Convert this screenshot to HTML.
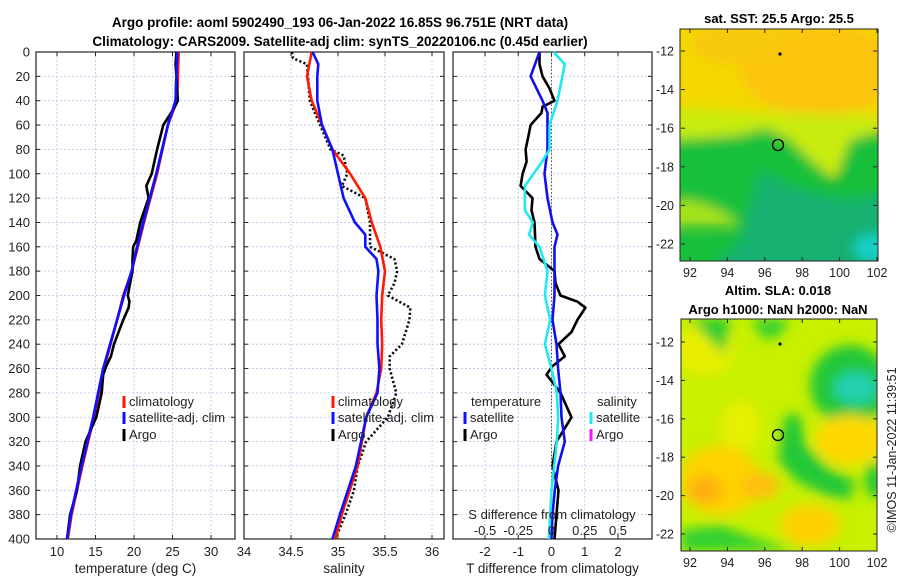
<!DOCTYPE html>
<html><head><meta charset="utf-8"><style>
body{margin:0;background:#fff;}
svg{display:block;font-family:"Liberation Sans","DejaVu Sans",sans-serif;}
</style></head><body>
<svg id="fig" width="900" height="580" viewBox="0 0 900 580">
<defs>
<filter id="blur" x="-20%" y="-20%" width="140%" height="140%"><feGaussianBlur stdDeviation="6"/></filter>
<clipPath id="clip1"><rect x="680" y="29" width="198" height="232"/></clipPath>
<clipPath id="clip2"><rect x="681" y="319" width="196" height="232"/></clipPath>
</defs>
<text x="340" y="27" text-anchor="middle" font-size="13.5" font-weight="bold">Argo profile: aoml 5902490_193 06-Jan-2022 16.85S 96.751E (NRT data)</text>
<text x="340" y="46" text-anchor="middle" font-size="13.5" font-weight="bold">Climatology: CARS2009. Satellite-adj clim: synTS_20220106.nc (0.45d earlier)</text>
<g id="panels"></g>
<!-- map 1 -->
<g clip-path="url(#clip1)">
<rect x="680" y="29" width="198" height="232" fill="#f4d800"/>
<g filter="url(#blur)">
<ellipse cx="820" cy="70" rx="80" ry="45" fill="#fcc410"/>
<ellipse cx="740" cy="45" rx="50" ry="20" fill="#f8c810"/>
<path d="M660,110 L700,108 L740,112 L877,115 L877,140 L860,150 L830,175 L800,190 L770,200 L720,205 L660,200 Z" fill="#c8ec10"/>
<path d="M660,140 L700,138 L740,135 L765,128 L790,140 L810,160 L835,180 L850,140 L877,132 L900,132 L900,280 L660,280 Z" fill="#14c03a"/>
<path d="M660,205 L690,200 L720,210 L740,225 L660,225 Z" fill="#a8e418"/>
<path d="M760,170 L800,190 L850,200 L900,190 L900,280 L700,280 L740,240 Z" fill="#12b070"/>
<ellipse cx="872" cy="248" rx="18" ry="14" fill="#18d0c8"/>
</g>
<path d="M680,232 L720,232 L740,225 L680,225 Z" fill="#1ec832" opacity="0.6" filter="url(#blur)"/>
</g>
<rect x="680" y="29" width="198" height="232" fill="none" stroke="#222" stroke-width="1"/>
<circle cx="780" cy="54" r="1.6" fill="#000"/>
<circle cx="778" cy="145" r="5.5" fill="none" stroke="#000" stroke-width="1.3"/>
<text x="779" y="23" text-anchor="middle" font-size="13" font-weight="bold">sat. SST: 25.5 Argo: 25.5</text>
<!-- map 2 -->
<g clip-path="url(#clip2)">
<rect x="681" y="319" width="196" height="232" fill="#c8f000"/>
<g filter="url(#blur)">
<ellipse cx="705" cy="350" rx="30" ry="25" fill="#e8ee00"/>
<path d="M690,319 L730,319 L725,355 L710,340 Z" fill="#22cc30"/>
<path d="M750,319 L790,319 L780,335 L765,340 Z" fill="#30d030"/>
<ellipse cx="850" cy="385" rx="40" ry="40" fill="#22c838"/>
<ellipse cx="856" cy="388" rx="22" ry="16" fill="#20d0b0"/>
<path d="M778,460 L785,415 L800,415 L805,445 L830,470 L855,480 L850,500 L825,495 L795,480 Z" fill="#22c838"/>
<ellipse cx="720" cy="480" rx="40" ry="35" fill="#ffd200"/>
<ellipse cx="705" cy="490" rx="18" ry="14" fill="#ffb010"/>
<ellipse cx="760" cy="486" rx="20" ry="14" fill="#ffc010"/>
<ellipse cx="850" cy="440" rx="35" ry="25" fill="#ffd800"/>
<ellipse cx="810" cy="525" rx="30" ry="20" fill="#ffd000"/>
<ellipse cx="740" cy="425" rx="20" ry="25" fill="#e6f000"/>
<path d="M681,530 L720,525 L760,540 L800,551 L681,551 Z" fill="#30d030"/>
<ellipse cx="875" cy="480" rx="10" ry="18" fill="#22c838"/>
</g>
</g>
<rect x="681" y="319" width="196" height="232" fill="none" stroke="#222" stroke-width="1"/>
<circle cx="780" cy="344" r="1.6" fill="#000"/>
<circle cx="778" cy="435" r="5.5" fill="none" stroke="#000" stroke-width="1.3"/>
<text x="778" y="295" text-anchor="middle" font-size="13" font-weight="bold">Altim. SLA: 0.018</text>
<text x="778" y="314" text-anchor="middle" font-size="13" font-weight="bold">Argo h1000: NaN h2000: NaN</text>
<text transform="translate(896,450) rotate(-90)" text-anchor="middle" font-size="12.5" fill="#222">©IMOS 11-Jan-2022 11:39:51</text>
<g id="maps-axes"></g>
</svg>
<script>
// ---------- data ----------
const depthTicks = [0,20,40,60,80,100,120,140,160,180,200,220,240,260,280,300,320,340,360,380,400];
const tempTicks = [10,15,20,25,30];
const salTicks = [34,34.5,35,35.5,36];
const tdiffTicks = [-2,-1,0,1,2];
const sdiffTicks = [-0.5,-0.25,0,0.25,0.5];
const sdiffTickLabels = ['-0.5','-0.25','0','0.25','0.5'];

const tempClimDepth = [0,40,60,100,140,160,180,200,220,260,300,340,380,400];
const tempClimVal   = [25.8,25.6,24.4,23.0,21.3,20.5,19.7,18.6,17.8,16.1,14.8,13.3,11.9,11.4];
const tempSatDepth  = [0,40,60,100,140,160,180,200,220,260,300,340,380,400];
const tempSatVal    = [25.6,25.4,24.4,22.9,21.2,20.4,19.7,18.7,17.8,16.0,14.7,13.2,11.8,11.3];
const tempArgoDepth = [0,10,20,30,40,45,50,60,80,100,110,120,140,155,160,170,180,190,200,205,210,220,240,250,258,265,280,300,320,340,360,380,400];
const tempArgoVal   = [25.5,25.4,25.5,25.6,25.7,25.3,24.8,23.8,23.0,22.3,21.6,21.9,20.8,20.3,19.9,19.8,19.8,19.5,19.2,19.4,19.3,18.6,17.4,17.0,16.4,16.0,15.8,15.1,13.7,13.0,12.6,11.7,11.3];

const salClimDepth = [0,20,40,60,80,100,120,140,160,180,200,220,240,260,280,300,340,380,400];
const salClimVal   = [34.72,34.67,34.72,34.83,34.94,35.13,35.29,35.36,35.45,35.5,35.47,35.46,35.47,35.46,35.41,35.3,35.21,35.04,34.97];
const salSatDepth  = [0,10,20,40,60,80,100,120,140,150,160,170,180,200,220,240,260,280,300,340,380,400];
const salSatVal    = [34.73,34.79,34.78,34.78,34.83,34.94,35.0,35.06,35.18,35.29,35.29,35.41,35.43,35.41,35.42,35.42,35.44,35.42,35.3,35.19,35.02,34.94];
const salArgoDepth = [0,5,10,40,60,80,85,100,110,120,140,160,170,180,190,200,210,220,240,250,260,280,300,320,340,360,380,400];
const salArgoVal   = [34.51,34.52,34.67,34.7,34.81,34.92,35.06,35.1,35.04,35.29,35.34,35.34,35.6,35.63,35.6,35.53,35.77,35.76,35.68,35.55,35.55,35.62,35.53,35.3,35.21,35.17,35.08,34.97];

const tdSatDepth  = [0,20,40,50,80,100,120,140,150,160,200,220,240,260,280,300,320,340,360,380,400];
const tdSatVal    = [-0.36,-0.63,-0.27,-0.12,-0.12,-0.21,-0.12,0.03,0.18,0.09,0.09,0.03,0.15,0.2,0.27,0.3,0.4,0.2,0.1,0.03,0.0];
const tdArgoDepth = [0,10,20,30,40,45,50,60,70,80,90,100,110,120,130,140,160,170,180,190,200,205,210,220,230,240,250,258,265,280,300,320,340,360,380,400];
const tdArgoVal   = [-0.36,-0.36,-0.27,-0.06,0.09,-0.27,-0.3,-0.63,-0.7,-0.78,-0.75,-0.87,-0.93,-0.57,-0.6,-0.51,-0.48,-0.36,0.09,0.12,0.27,0.78,1.02,0.78,0.6,0.21,0.4,0.03,-0.15,0.27,0.6,0.15,0.03,0.21,0.15,0.09];
const sdSatDepth  = [0,10,40,60,80,90,110,130,140,150,160,180,200,220,240,260,280,300,320,340,360,380,400];
const sdSatVal    = [0.015,0.1,0.045,-0.015,-0.015,-0.07,-0.2,-0.2,-0.14,-0.17,-0.09,-0.03,-0.05,-0.01,-0.05,0.0,0.04,0.05,0.04,0.02,0.0,-0.01,-0.02];

const lonTicks = [92,94,96,98,100,102];
const latTicks = [-12,-14,-16,-18,-20,-22];

// ---------- helpers ----------
const NS = 'http://www.w3.org/2000/svg';
const panelsG = document.getElementById('panels');
function mk(tag, attrs, parent){
  const e = document.createElementNS(NS, tag);
  for (const k in attrs) e.setAttribute(k, attrs[k]);
  (parent||panelsG).appendChild(e);
  return e;
}
const Y0 = 52, Y1 = 539;
function yDepth(d){ return Y0 + d/400*(Y1-Y0); }
function scaleX(dmin,dmax,px0,px1){ return v => px0 + (v-dmin)/(dmax-dmin)*(px1-px0); }

function panel(name, x0, x1, xs, ticks, labels, xlabel, showY){
  const g = mk('g', {});
  
  
  depthTicks.forEach(d=>{
    const l = mk('line',{x1:x0,x2:x1,y1:yDepth(d),y2:yDepth(d),stroke:'#b8c4e8','stroke-width':0.8,'stroke-dasharray':'2,2'},g);
    
    
    mk('line',{x1:x0,x2:x0+4,y1:yDepth(d),y2:yDepth(d),stroke:'#222'},g);
    mk('line',{x1:x1-4,x2:x1,y1:yDepth(d),y2:yDepth(d),stroke:'#222'},g);
    if (showY){
      const t = mk('text',{x:x0-6,y:yDepth(d)+4.5,'text-anchor':'end','font-size':13,fill:'#222'},g);
      t.textContent = d;
      
      
    }
  });
  ticks.forEach((v,i)=>{
    const x = xs(v);
    const l = mk('line',{x1:x,x2:x,y1:Y0,y2:Y1,stroke:'#b8c4e8','stroke-width':0.8,'stroke-dasharray':'2,2'},g);
    
    
    mk('line',{x1:x,x2:x,y1:Y1,y2:Y1-4,stroke:'#222'},g);
    mk('line',{x1:x,x2:x,y1:Y0,y2:Y0+4,stroke:'#222'},g);
    const t = mk('text',{x:x,y:556,'text-anchor':'middle','font-size':13,fill:'#222'},g);
    t.textContent = labels[i];
    
    
  });
  const fr = mk('rect',{x:x0,y:Y0,width:x1-x0,height:Y1-Y0,fill:'none',stroke:'#222','stroke-width':1.2},g);
  
  
  const xt = mk('text',{x:(x0+x1)/2,y:573,'text-anchor':'middle','font-size':13.5,fill:'#222'},g);
  xt.textContent = xlabel;
  
  
  return g;
}
function line(g, name, xs, depths, vals, color, dash){
  const pts = depths.map((d,i)=> xs(vals[i]).toFixed(1)+','+yDepth(d).toFixed(1)).join(' ');
  const p = mk('polyline',{points:pts,fill:'none',stroke:color,'stroke-width':2.6,'stroke-linejoin':'round'},g);
  if (dash){ p.setAttribute('stroke-dasharray','2.2,2.2'); }
  
  
}
function legendEntry(g, x, y, color, label){
  const r = mk('rect',{x:x-1.5,y:y-10,width:3,height:12,fill:color},g);
  
  
  const t = mk('text',{x:x+5,y:y,'font-size':13,fill:'#222'},g);
  t.textContent = label;
  
  
}

// ---------- panel 1: temperature ----------
const xT = scaleX(10,30,57,211);
const g1 = panel('temperature-panel',36,235,xT,tempTicks,tempTicks.map(String),'temperature (deg C)',true);
line(g1,'temp-climatology-line',xT,tempClimDepth,tempClimVal,'#ff1a00');
line(g1,'temp-satellite-line',xT,tempSatDepth,tempSatVal,'#1010ff');
line(g1,'temp-argo-line',xT,tempArgoDepth,tempArgoVal,'#000');
line(g1,'temp-satellite-line-top',xT,tempSatDepth,tempSatVal,'#1010ff');
legendEntry(g1,124,406,'#ff1a00','climatology');
legendEntry(g1,124,422,'#1010ff','satellite-adj. clim');
legendEntry(g1,124,439,'#000','Argo');

// ---------- panel 2: salinity ----------
const xS = scaleX(34,36,244,432);
const g2 = panel('salinity-panel',244,444,xS,salTicks,['34','34.5','35','35.5','36'],'salinity',false);
line(g2,'sal-argo-line',xS,salArgoDepth,salArgoVal,'#111',true);
line(g2,'sal-climatology-line',xS,salClimDepth,salClimVal,'#ff1a00');
line(g2,'sal-satellite-line',xS,salSatDepth,salSatVal,'#1010ff');
legendEntry(g2,333,406,'#ff1a00','climatology');
legendEntry(g2,333,422,'#1010ff','satellite-adj. clim');
legendEntry(g2,333,439,'#000','Argo');

// ---------- panel 3: differences ----------
const xTD = scaleX(-2,2,485,618);
const xSD = scaleX(-0.5,0.5,485,618);
const g3 = panel('difference-panel',453,652,xTD,tdiffTicks,['-2','-1','0','1','2'],'T difference from climatology',false);
const zl = mk('line',{x1:xTD(0),x2:xTD(0),y1:Y0,y2:Y1,stroke:'#555','stroke-width':1,'stroke-dasharray':'1.5,2'},g3);


line(g3,'tdiff-argo-line',xTD,tdArgoDepth,tdArgoVal,'#000');
line(g3,'tdiff-satellite-line',xTD,tdSatDepth,tdSatVal,'#1010ee');
line(g3,'sdiff-satellite-line',xSD,sdSatDepth,sdSatVal,'#20e8f0');
const st = mk('text',{x:552,y:519,'text-anchor':'middle','font-size':13,fill:'#222'},g3);
st.textContent = 'S difference from climatology';


sdiffTicks.forEach((v,i)=>{
  const t = mk('text',{x:xSD(v),y:535,'text-anchor':'middle','font-size':13,fill:'#222'},g3);
  t.textContent = sdiffTickLabels[i];
  
  
});
const th = mk('text',{x:471,y:406,'font-size':13,fill:'#222'},g3);
th.textContent = 'temperature';


const sh = mk('text',{x:597,y:406,'font-size':13,fill:'#222'},g3);
sh.textContent = 'salinity';


legendEntry(g3,465,422,'#1010ff','satellite');
legendEntry(g3,465,439,'#000','Argo');
legendEntry(g3,591,422,'#20e8f0','satellite');
legendEntry(g3,591,439,'#ff10ff','Argo');

// ---------- map axes ----------
const mg = document.getElementById('maps-axes');
function mapAxes(name, top, bottom, latY){
  const lonX = lon => 690 + (lon-92)*18.7;
  lonTicks.forEach(v=>{
    const x = lonX(v);
    mk('line',{x1:x,x2:x,y1:bottom,y2:bottom-4,stroke:'#222'},mg);
    mk('line',{x1:x,x2:x,y1:top,y2:top+4,stroke:'#222'},mg);
    const t = mk('text',{x:x,y:bottom+16,'text-anchor':'middle','font-size':12.5,fill:'#222'},mg);
    t.textContent = v;
    
    
  });
  latTicks.forEach(v=>{
    const y = latY(v);
    mk('line',{x1:681,x2:685,y1:y,y2:y,stroke:'#222'},mg);
    mk('line',{x1:873,x2:877,y1:y,y2:y,stroke:'#222'},mg);
    const t = mk('text',{x:674,y:y+4.5,'text-anchor':'end','font-size':12.5,fill:'#222'},mg);
    t.textContent = v;
    
    
  });
}
mapAxes('sst-map',29,261,lat=>51+(-12-lat)*19.3);
mapAxes('sla-map',319,551,lat=>342+(-12-lat)*19.2);
</script>
</body></html>
